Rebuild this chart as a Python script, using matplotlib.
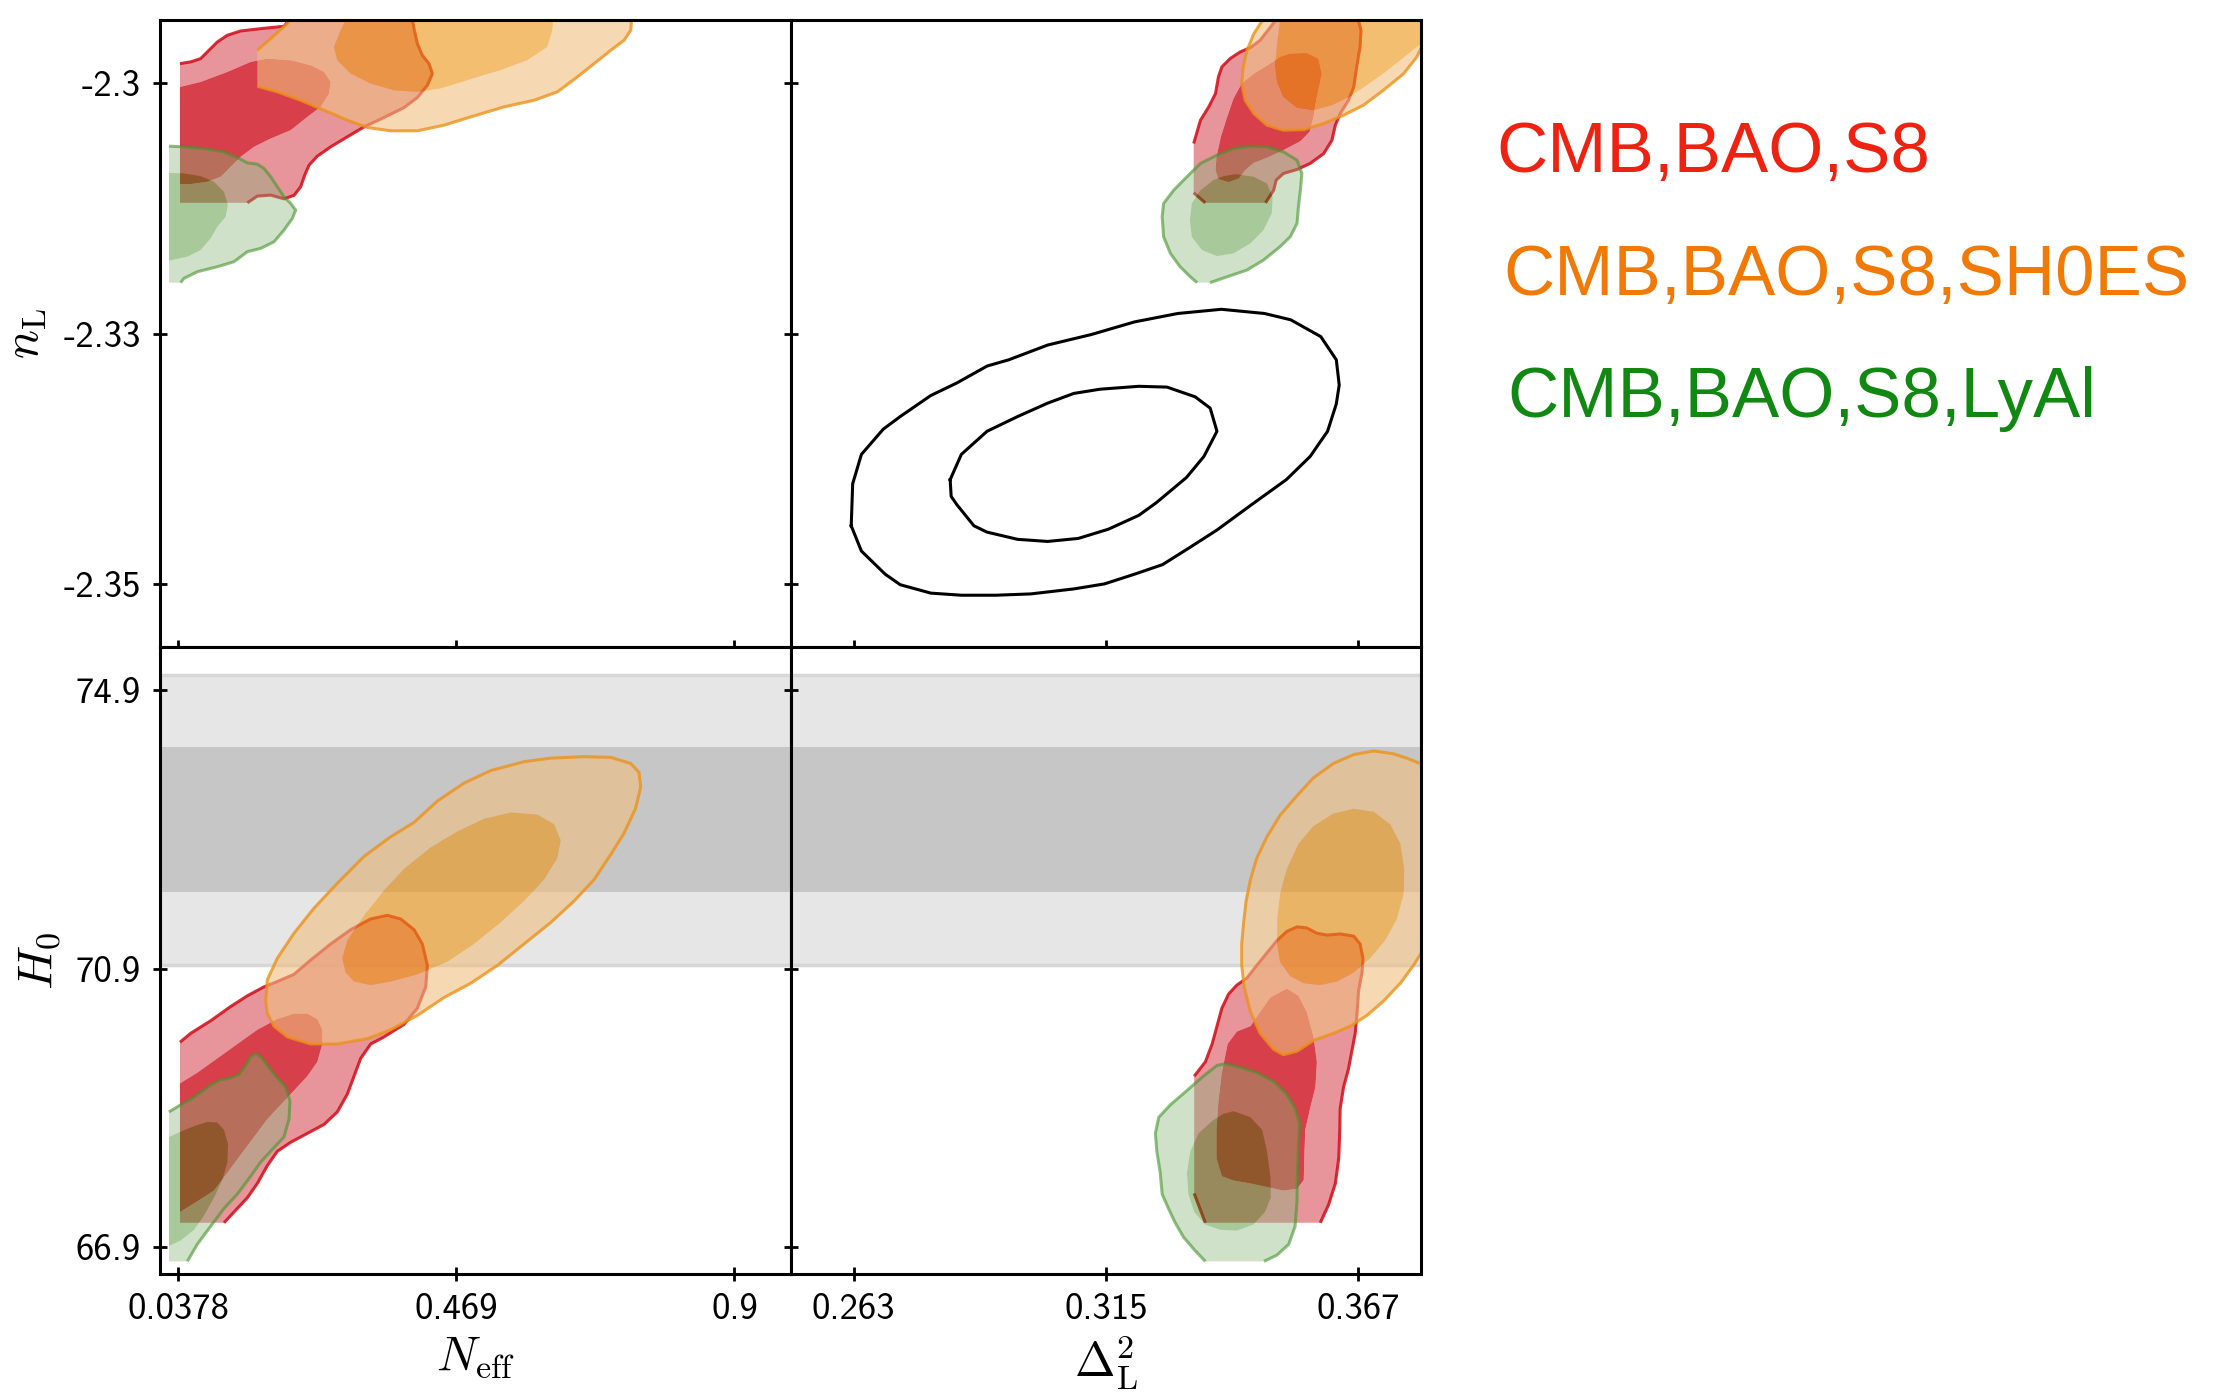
import matplotlib.pyplot as plt
import numpy as np
from matplotlib.path import Path
from matplotlib.patches import PathPatch, Polygon

plt.rcParams['mathtext.fontset'] = 'cm'
plt.rcParams['font.family'] = ['cmss10', 'DejaVu Sans']

# axis ranges and ticks
neff_lim = (0.0095, 0.987)
neff_ticks = [0.0378, 0.469, 0.9]
neff_ticklabels = ['0.0378', '0.469', '0.9']
dl_lim = (0.2500, 0.3800)
dl_ticks = [0.263, 0.315, 0.367]
dl_ticklabels = ['0.263', '0.315', '0.367']
nl_lim = (-2.3563, -2.2937)
nl_ticks = [-2.30, -2.325, -2.35]
nl_ticklabels = ['-2.3', '-2.33', '-2.35']
h0_lim = (66.52, 75.52)
h0_ticks = [74.9, 70.9, 66.9]
h0_ticklabels = ['74.9', '70.9', '66.9']

# SH0ES prior band
shoes_mean = 73.04
shoes_sigma = 1.04

labels = ['CMB,BAO,S8', 'CMB,BAO,S8,SH0ES', 'CMB,BAO,S8,LyAl']

# ---- contours: N_eff vs H0 (lower left) ----
red_outer_ll = [(0.0405, 67.255), (0.1087, 67.255), (0.1242, 67.409), (0.1449, 67.614), (0.1604, 67.819),
                (0.1759, 68.076), (0.1914, 68.281), (0.2121, 68.410), (0.2379, 68.538), (0.2637, 68.666),
                (0.2844, 68.846), (0.2999, 69.102), (0.3103, 69.359), (0.3206, 69.615), (0.3361, 69.821),
                (0.3568, 69.923), (0.3878, 70.103), (0.4084, 70.334), (0.4214, 70.641), (0.4240, 70.949),
                (0.4162, 71.257), (0.4033, 71.462), (0.3826, 71.616), (0.3619, 71.668), (0.3361, 71.616),
                (0.3051, 71.462), (0.2741, 71.257), (0.2431, 71.026), (0.2172, 70.821), (0.1914, 70.718),
                (0.1707, 70.641), (0.1449, 70.513), (0.1190, 70.359), (0.0880, 70.154), (0.0570, 69.974),
                (0.0405, 69.846)]
red_inner_ll = [(0.0405, 69.256), (0.0674, 69.410), (0.0984, 69.615), (0.1294, 69.821), (0.1604, 70.026),
                (0.1914, 70.180), (0.2172, 70.257), (0.2379, 70.257), (0.2534, 70.180), (0.2612, 70.026),
                (0.2612, 69.821), (0.2534, 69.564), (0.2379, 69.359), (0.2172, 69.153), (0.1966, 68.948),
                (0.1759, 68.743), (0.1552, 68.486), (0.1345, 68.230), (0.1139, 67.973), (0.0932, 67.717),
                (0.0674, 67.563), (0.0405, 67.409)]
orange_outer_ll = [(0.1733, 70.436), (0.1759, 70.744), (0.1914, 71.052), (0.2172, 71.411), (0.2482, 71.770),
                   (0.2844, 72.129), (0.3258, 72.514), (0.3671, 72.796), (0.4033, 73.002), (0.4395, 73.309),
                   (0.4808, 73.566), (0.5221, 73.746), (0.5738, 73.874), (0.6152, 73.925), (0.6668, 73.946),
                   (0.7082, 73.936), (0.7392, 73.848), (0.7521, 73.720), (0.7547, 73.515), (0.7469, 73.207),
                   (0.7289, 72.848), (0.7082, 72.540), (0.6824, 72.181), (0.6513, 71.873), (0.6152, 71.565),
                   (0.5738, 71.257), (0.5325, 70.949), (0.4911, 70.693), (0.4498, 70.488), (0.4084, 70.231),
                   (0.3671, 70.026), (0.3309, 69.897), (0.2844, 69.821), (0.2431, 69.821), (0.2069, 69.923),
                   (0.1862, 70.077), (0.1759, 70.257)]
orange_inner_ll = [(0.2922, 71.052), (0.2999, 71.308), (0.3258, 71.668), (0.3568, 72.027), (0.3878, 72.335),
                   (0.4291, 72.642), (0.4705, 72.873), (0.5118, 73.053), (0.5532, 73.145), (0.5945, 73.114),
                   (0.6203, 72.976), (0.6307, 72.745), (0.6255, 72.489), (0.6048, 72.181), (0.5738, 71.873),
                   (0.5376, 71.565), (0.4963, 71.257), (0.4550, 71.001), (0.4084, 70.821), (0.3671, 70.718),
                   (0.3361, 70.667), (0.3103, 70.718), (0.2973, 70.847)]
green_outer_ll = [(0.0234, 66.701), (0.0519, 66.701), (0.0674, 66.947), (0.0880, 67.204), (0.1087, 67.460),
                  (0.1294, 67.666), (0.1500, 67.922), (0.1656, 68.127), (0.1862, 68.333), (0.2017, 68.486),
                  (0.2095, 68.743), (0.2110, 69.000), (0.2043, 69.205), (0.1914, 69.333), (0.1759, 69.513),
                  (0.1656, 69.641), (0.1578, 69.677), (0.1500, 69.641), (0.1423, 69.513), (0.1320, 69.384),
                  (0.1190, 69.333), (0.1035, 69.307), (0.0880, 69.231), (0.0725, 69.128), (0.0570, 69.025),
                  (0.0415, 68.948), (0.0234, 68.846)]
green_inner_ll = [(0.0234, 68.486), (0.0415, 68.563), (0.0622, 68.640), (0.0829, 68.702), (0.0984, 68.692),
                  (0.1087, 68.589), (0.1149, 68.384), (0.1139, 68.127), (0.1061, 67.871), (0.0932, 67.614),
                  (0.0777, 67.358), (0.0622, 67.153), (0.0415, 66.999), (0.0234, 66.922)]

# ---- contours: Delta_L^2 vs H0 (lower right) ----
red_outer_lr = [(0.3332, 67.676), (0.3355, 67.255), (0.3592, 67.255), (0.3609, 67.512), (0.3623, 67.819),
                (0.3630, 68.179), (0.3632, 68.538), (0.3633, 68.897), (0.3640, 69.205), (0.3650, 69.461),
                (0.3657, 69.718), (0.3664, 69.974), (0.3668, 70.282), (0.3671, 70.590), (0.3678, 70.847),
                (0.3680, 71.052), (0.3674, 71.257), (0.3661, 71.370), (0.3633, 71.401), (0.3606, 71.385),
                (0.3585, 71.411), (0.3564, 71.488), (0.3544, 71.503), (0.3523, 71.437), (0.3503, 71.308),
                (0.3482, 71.129), (0.3461, 70.949), (0.3441, 70.770), (0.3420, 70.667), (0.3403, 70.539),
                (0.3389, 70.334), (0.3379, 70.077), (0.3369, 69.821), (0.3355, 69.564), (0.3332, 69.359)]
red_inner_lr = [(0.3523, 70.616), (0.3547, 70.513), (0.3564, 70.282), (0.3578, 69.923), (0.3585, 69.564),
                (0.3582, 69.205), (0.3571, 68.897), (0.3561, 68.589), (0.3559, 68.179), (0.3558, 67.871),
                (0.3544, 67.743), (0.3516, 67.717), (0.3482, 67.768), (0.3448, 67.819), (0.3413, 67.861),
                (0.3389, 67.922), (0.3378, 68.179), (0.3378, 68.589), (0.3382, 69.000), (0.3389, 69.410),
                (0.3401, 69.821), (0.3420, 70.000), (0.3448, 70.077), (0.3468, 70.282), (0.3489, 70.488)]
orange_outer_lr = [(0.3798, 73.848), (0.3770, 73.925), (0.3743, 73.987), (0.3702, 74.028), (0.3661, 73.976),
                   (0.3619, 73.848), (0.3578, 73.643), (0.3544, 73.386), (0.3509, 73.104), (0.3482, 72.796),
                   (0.3461, 72.489), (0.3448, 72.181), (0.3439, 71.873), (0.3434, 71.565), (0.3430, 71.257),
                   (0.3430, 70.949), (0.3435, 70.641), (0.3448, 70.282), (0.3468, 69.974), (0.3496, 69.744),
                   (0.3516, 69.667), (0.3544, 69.718), (0.3578, 69.872), (0.3619, 69.974), (0.3654, 70.077),
                   (0.3688, 70.231), (0.3722, 70.436), (0.3757, 70.693), (0.3784, 70.949), (0.3798, 71.103),
                   (0.3826, 71.462), (0.3826, 73.771)]
orange_inner_lr = [(0.3661, 73.197), (0.3702, 73.156), (0.3736, 72.976), (0.3757, 72.694), (0.3765, 72.335),
                   (0.3764, 71.975), (0.3750, 71.616), (0.3726, 71.308), (0.3695, 71.052), (0.3661, 70.847),
                   (0.3626, 70.718), (0.3592, 70.667), (0.3558, 70.693), (0.3530, 70.795), (0.3509, 71.001),
                   (0.3503, 71.257), (0.3503, 71.616), (0.3509, 71.975), (0.3523, 72.335), (0.3547, 72.694),
                   (0.3578, 72.950), (0.3619, 73.130)]
green_outer_lr = [(0.3476, 66.701), (0.3503, 66.793), (0.3527, 66.947), (0.3540, 67.204), (0.3544, 67.563),
                  (0.3545, 67.973), (0.3547, 68.384), (0.3549, 68.692), (0.3540, 68.897), (0.3523, 69.102),
                  (0.3496, 69.282), (0.3461, 69.410), (0.3427, 69.487), (0.3396, 69.538), (0.3379, 69.513),
                  (0.3351, 69.359), (0.3317, 69.153), (0.3283, 68.948), (0.3259, 68.769), (0.3252, 68.538),
                  (0.3255, 68.281), (0.3262, 67.973), (0.3266, 67.666), (0.3279, 67.460), (0.3293, 67.255),
                  (0.3310, 67.050), (0.3332, 66.870), (0.3355, 66.701)]
green_inner_lr = [(0.3413, 68.856), (0.3448, 68.769), (0.3472, 68.589), (0.3482, 68.281), (0.3489, 67.922),
                  (0.3490, 67.614), (0.3478, 67.409), (0.3454, 67.229), (0.3420, 67.142), (0.3386, 67.153),
                  (0.3355, 67.229), (0.3332, 67.409), (0.3320, 67.666), (0.3317, 67.973), (0.3324, 68.281),
                  (0.3341, 68.538), (0.3369, 68.717), (0.3393, 68.820)]

# ---- contours: N_eff vs n_L (upper left) ----
red_outer_tl = [(0.0405, -2.31195), (0.1449, -2.31195), (0.1604, -2.31128), (0.1811, -2.31118), (0.2017, -2.31155),
                (0.2172, -2.31121), (0.2276, -2.31035), (0.2338, -2.30919), (0.2405, -2.30819), (0.2534, -2.30729),
                (0.2741, -2.30636), (0.2999, -2.30536), (0.3258, -2.30437), (0.3568, -2.30343), (0.3878, -2.30244),
                (0.4084, -2.30144), (0.4240, -2.30021), (0.4317, -2.29905), (0.4265, -2.29805), (0.4162, -2.29722),
                (0.4084, -2.29605), (0.4033, -2.29456), (0.3981, -2.29273), (0.2224, -2.29273), (0.2017, -2.29432),
                (0.1656, -2.29456), (0.1345, -2.29479), (0.1139, -2.29522), (0.0984, -2.29589), (0.0854, -2.29672),
                (0.0725, -2.29755), (0.0570, -2.29788), (0.0405, -2.29805)]
red_inner_tl = [(0.0405, -2.30038), (0.0725, -2.29988), (0.1139, -2.29888), (0.1500, -2.29788), (0.1759, -2.29755),
                (0.2121, -2.29772), (0.2431, -2.29821), (0.2637, -2.29888), (0.2741, -2.29988), (0.2715, -2.30104),
                (0.2586, -2.30237), (0.2379, -2.30337), (0.2121, -2.30470), (0.1811, -2.30553), (0.1552, -2.30636),
                (0.1345, -2.30736), (0.1190, -2.30836), (0.1035, -2.30935), (0.0829, -2.30985), (0.0570, -2.31008),
                (0.0405, -2.31008)]
orange_outer_tl = [(0.1604, -2.29672), (0.1811, -2.29555), (0.2069, -2.29406), (0.2172, -2.29273), (0.7418, -2.29273),
                   (0.7392, -2.29472), (0.7289, -2.29572), (0.7082, -2.29672), (0.6824, -2.29805), (0.6565, -2.29938),
                   (0.6255, -2.30087), (0.5893, -2.30171), (0.5428, -2.30237), (0.4911, -2.30337), (0.4498, -2.30420),
                   (0.4084, -2.30476), (0.3671, -2.30476), (0.3309, -2.30443), (0.2999, -2.30370), (0.2637, -2.30270),
                   (0.2276, -2.30171), (0.1914, -2.30087), (0.1604, -2.30031)]
orange_inner_tl = [(0.3051, -2.29273), (0.2896, -2.29472), (0.2792, -2.29639), (0.2844, -2.29772), (0.3051, -2.29905),
                   (0.3361, -2.30004), (0.3723, -2.30071), (0.4084, -2.30087), (0.4446, -2.30054), (0.4860, -2.29971),
                   (0.5376, -2.29871), (0.5790, -2.29772), (0.6100, -2.29639), (0.6178, -2.29472), (0.6203, -2.29273)]
green_outer_tl = [(0.0234, -2.31992), (0.0415, -2.31992), (0.0467, -2.31949), (0.0674, -2.31883), (0.0984, -2.31833),
                  (0.1242, -2.31783), (0.1449, -2.31683), (0.1656, -2.31650), (0.1862, -2.31584), (0.2017, -2.31467),
                  (0.2146, -2.31351), (0.2198, -2.31268), (0.2121, -2.31201), (0.2017, -2.31135), (0.1914, -2.31035),
                  (0.1811, -2.30935), (0.1707, -2.30852), (0.1604, -2.30809), (0.1449, -2.30796), (0.1320, -2.30752),
                  (0.1087, -2.30686), (0.0777, -2.30653), (0.0467, -2.30636), (0.0234, -2.30629)]
green_inner_tl = [(0.0234, -2.30895), (0.0467, -2.30902), (0.0725, -2.30929), (0.0932, -2.30985), (0.1087, -2.31085),
                  (0.1149, -2.31218), (0.1113, -2.31334), (0.0984, -2.31434), (0.0880, -2.31550), (0.0725, -2.31667),
                  (0.0519, -2.31733), (0.0234, -2.31773)]

# ---- contours: Delta_L^2 vs n_L (upper right) ----
red_outer_tr = [(0.3331, -2.31095), (0.3355, -2.31195), (0.3479, -2.31195), (0.3496, -2.31068), (0.3501, -2.30968),
                (0.3516, -2.30902), (0.3544, -2.30862), (0.3571, -2.30802), (0.3599, -2.30703), (0.3616, -2.30570),
                (0.3623, -2.30420), (0.3633, -2.30304), (0.3650, -2.30171), (0.3661, -2.30038), (0.3667, -2.29838),
                (0.3674, -2.29639), (0.3676, -2.29472), (0.3671, -2.29379), (0.3671, -2.29273), (0.3516, -2.29273),
                (0.3468, -2.29572), (0.3448, -2.29645), (0.3427, -2.29688), (0.3406, -2.29755), (0.3389, -2.29838),
                (0.3382, -2.29938), (0.3376, -2.30104), (0.3362, -2.30237), (0.3345, -2.30370), (0.3331, -2.30603)]
red_inner_tr = [(0.3530, -2.29705), (0.3564, -2.29699), (0.3588, -2.29755), (0.3595, -2.29905), (0.3588, -2.30071),
                (0.3582, -2.30204), (0.3578, -2.30337), (0.3570, -2.30486), (0.3551, -2.30580), (0.3516, -2.30669),
                (0.3482, -2.30746), (0.3455, -2.30796), (0.3437, -2.30869), (0.3424, -2.30952), (0.3403, -2.30988),
                (0.3382, -2.30959), (0.3376, -2.30869), (0.3378, -2.30736), (0.3387, -2.30536), (0.3400, -2.30337),
                (0.3413, -2.30154), (0.3430, -2.30004), (0.3455, -2.29905), (0.3489, -2.29805), (0.3509, -2.29738)]
orange_outer_tr = [(0.3475, -2.29273), (0.3472, -2.29379), (0.3455, -2.29506), (0.3441, -2.29672), (0.3433, -2.29838),
                   (0.3430, -2.30004), (0.3437, -2.30171), (0.3455, -2.30304), (0.3482, -2.30420), (0.3516, -2.30470),
                   (0.3558, -2.30464), (0.3599, -2.30403), (0.3640, -2.30320), (0.3681, -2.30220), (0.3722, -2.30071),
                   (0.3764, -2.29905), (0.3791, -2.29738), (0.3801, -2.29639), (0.3826, -2.29539), (0.3826, -2.29273)]
orange_inner_tr = [(0.3513, -2.29273), (0.3509, -2.29379), (0.3503, -2.29605), (0.3499, -2.29822), (0.3503, -2.29988),
                   (0.3516, -2.30137), (0.3544, -2.30244), (0.3578, -2.30270), (0.3616, -2.30220), (0.3654, -2.30131),
                   (0.3688, -2.30021), (0.3722, -2.29905), (0.3757, -2.29772), (0.3791, -2.29639), (0.3812, -2.29572),
                   (0.3812, -2.29273)]
green_outer_tr = [(0.3365, -2.31992), (0.3400, -2.31933), (0.3441, -2.31866), (0.3475, -2.31766), (0.3509, -2.31633),
                  (0.3530, -2.31534), (0.3544, -2.31401), (0.3547, -2.31234), (0.3551, -2.31068), (0.3554, -2.30902),
                  (0.3544, -2.30769), (0.3516, -2.30686), (0.3482, -2.30636), (0.3448, -2.30629), (0.3413, -2.30653),
                  (0.3379, -2.30719), (0.3345, -2.30802), (0.3317, -2.30935), (0.3290, -2.31068), (0.3269, -2.31201),
                  (0.3266, -2.31334), (0.3269, -2.31534), (0.3283, -2.31700), (0.3303, -2.31833), (0.3324, -2.31933),
                  (0.3338, -2.31992)]
green_inner_tr = [(0.3417, -2.30909), (0.3455, -2.30935), (0.3482, -2.31002), (0.3494, -2.31135), (0.3492, -2.31301),
                  (0.3475, -2.31467), (0.3448, -2.31600), (0.3413, -2.31700), (0.3379, -2.31727), (0.3348, -2.31667),
                  (0.3327, -2.31534), (0.3323, -2.31367), (0.3327, -2.31201), (0.3345, -2.31068), (0.3372, -2.30968),
                  (0.3393, -2.30929)]
black_outer_tr = [(0.2625, -2.34420), (0.2628, -2.34000), (0.2646, -2.33707), (0.2691, -2.33455), (0.2726, -2.33329),
                  (0.2789, -2.33119), (0.2843, -2.32993), (0.2905, -2.32825), (0.2950, -2.32762), (0.3030, -2.32615),
                  (0.3120, -2.32510), (0.3209, -2.32384), (0.3298, -2.32300), (0.3388, -2.32258), (0.3477, -2.32300),
                  (0.3531, -2.32363), (0.3593, -2.32531), (0.3625, -2.32762), (0.3631, -2.33014), (0.3625, -2.33203),
                  (0.3607, -2.33476), (0.3571, -2.33728), (0.3522, -2.33959), (0.3450, -2.34210), (0.3379, -2.34462),
                  (0.3325, -2.34630), (0.3267, -2.34807), (0.3209, -2.34903), (0.3147, -2.35000), (0.3084, -2.35050),
                  (0.2995, -2.35100), (0.2923, -2.35113), (0.2852, -2.35113), (0.2789, -2.35092), (0.2726, -2.35008),
                  (0.2695, -2.34903), (0.2646, -2.34672)]
black_inner_tr = [(0.2829, -2.33959), (0.2831, -2.34126), (0.2843, -2.34210), (0.2878, -2.34420), (0.2905, -2.34483),
                  (0.2968, -2.34555), (0.3030, -2.34576), (0.3093, -2.34546), (0.3155, -2.34454), (0.3218, -2.34315),
                  (0.3254, -2.34189), (0.3316, -2.33938), (0.3352, -2.33728), (0.3379, -2.33476), (0.3365, -2.33245),
                  (0.3334, -2.33132), (0.3276, -2.33035), (0.3218, -2.33027), (0.3138, -2.33056), (0.3084, -2.33098),
                  (0.3030, -2.33195), (0.2968, -2.33329), (0.2905, -2.33476), (0.2852, -2.33707)]

# fill colours (outer, inner), line colour, alphas
red_style = dict(outer='#e27a82', inner='#ce101d', alpha=0.8, line='#d20b17', lalpha=0.85, z=1.0)
orange_style = dict(outer='#f0be7f', inner='#ed9411', alpha=0.6, line='#ec921a', lalpha=0.8, z=1.5)
green_style = dict(outer='#87b476', inner='#267b03', alpha=0.4, line='#44942b', lalpha=0.6, z=2.0)


def signed_area(p):
    return 0.5 * np.sum(p[:, 0] * np.roll(p[:, 1], -1) - np.roll(p[:, 0], -1) * p[:, 1])


def ring(outer, inner):
    o = np.asarray(outer, float)
    i = np.asarray(inner, float)
    if signed_area(o) * signed_area(i) > 0:
        i = i[::-1]
    verts = np.concatenate([o, o[:1], i, i[:1]])
    codes = ([Path.MOVETO] + [Path.LINETO] * (len(o) - 1) + [Path.CLOSEPOLY] +
             [Path.MOVETO] + [Path.LINETO] * (len(i) - 1) + [Path.CLOSEPOLY])
    return Path(verts, codes)


def draw_set(ax, outer, inner, st, parts=None):
    z = st['z']
    ax.add_patch(PathPatch(ring(outer, inner), facecolor=st['outer'], edgecolor='none',
                           alpha=st['alpha'], zorder=z))
    ax.add_patch(Polygon(inner, closed=True, facecolor=st['inner'], edgecolor='none',
                         alpha=st['alpha'], zorder=z))
    o = np.asarray(outer, float)
    if parts is None:
        segs = [np.vstack([o, o[:1]])]
    else:
        segs = [o[a:b] for a, b in parts]
    for s in segs:
        ax.plot(s[:, 0], s[:, 1], color=st['line'], alpha=st['lalpha'], lw=2.2,
                zorder=z + 0.1, solid_capstyle='butt')


fig = plt.figure(figsize=(22.22, 13.92), dpi=100)
w, h = 0.2838, 0.4504
ax_tl = fig.add_axes([0.0720, 0.5352, w, h])
ax_tr = fig.add_axes([0.3558, 0.5352, w, h])
ax_ll = fig.add_axes([0.0720, 0.0848, w, h])
ax_lr = fig.add_axes([0.3558, 0.0848, w, h])

for ax in [ax_ll, ax_lr]:
    ax.axhspan(shoes_mean - 2 * shoes_sigma, shoes_mean + 2 * shoes_sigma,
               facecolor='#e6e6e6', edgecolor='#d7d7d7', lw=2.5, zorder=0.3)
    ax.axhspan(shoes_mean - shoes_sigma, shoes_mean + shoes_sigma,
               facecolor='#c6c6c6', edgecolor='none', zorder=0.4)

# lower left
draw_set(ax_ll, red_outer_ll, red_inner_ll, red_style, parts=[(1, None)])
draw_set(ax_ll, orange_outer_ll, orange_inner_ll, orange_style)
draw_set(ax_ll, green_outer_ll, green_inner_ll, green_style, parts=[(1, None)])
# lower right
draw_set(ax_lr, red_outer_lr, red_inner_lr, red_style, parts=[(0, 2), (2, None)])
draw_set(ax_lr, orange_outer_lr, orange_inner_lr, orange_style)
draw_set(ax_lr, green_outer_lr, green_inner_lr, green_style, parts=[(0, None)])
# upper left
draw_set(ax_tl, red_outer_tl, red_inner_tl, red_style, parts=[(1, None)])
draw_set(ax_tl, orange_outer_tl, orange_inner_tl, orange_style, parts=[(0, None)])
draw_set(ax_tl, green_outer_tl, green_inner_tl, green_style, parts=[(1, None)])
# upper right
draw_set(ax_tr, red_outer_tr, red_inner_tr, red_style, parts=[(0, 2), (2, None)])
draw_set(ax_tr, orange_outer_tr, orange_inner_tr, orange_style)
draw_set(ax_tr, green_outer_tr, green_inner_tr, green_style, parts=[(0, None)])
for c in [black_outer_tr, black_inner_tr]:
    c = np.asarray(c)
    c = np.vstack([c, c[:1]])
    ax_tr.plot(c[:, 0], c[:, 1], color='black', lw=2.2, zorder=2.2)

for ax in [ax_tl, ax_ll]:
    ax.set_xlim(neff_lim)
    ax.set_xticks(neff_ticks)
for ax in [ax_tr, ax_lr]:
    ax.set_xlim(dl_lim)
    ax.set_xticks(dl_ticks)
for ax in [ax_tl, ax_tr]:
    ax.set_ylim(nl_lim)
    ax.set_yticks(nl_ticks)
    ax.set_xticklabels([])
for ax in [ax_ll, ax_lr]:
    ax.set_ylim(h0_lim)
    ax.set_yticks(h0_ticks)
ax_tr.set_yticklabels([])
ax_lr.set_yticklabels([])
ax_tl.set_yticklabels(nl_ticklabels)
ax_ll.set_yticklabels(h0_ticklabels)
ax_ll.set_xticklabels(neff_ticklabels)
ax_lr.set_xticklabels(dl_ticklabels)

for ax in [ax_tl, ax_tr, ax_ll, ax_lr]:
    ax.tick_params(direction='inout', length=9.5, width=2, labelsize=26.5, pad=9,
                   top=False, right=False)
    for sp in ax.spines.values():
        sp.set_linewidth(2.2)
        sp.set_zorder(10)

ax_tl.set_ylabel(r'$n_{\rm L}$', fontsize=35, labelpad=10)
ax_ll.set_ylabel(r'$H_0$', fontsize=35, labelpad=10)
ax_ll.set_xlabel(r'$N_{\rm eff}$', fontsize=35, labelpad=6)
ax_lr.set_xlabel(r'$\Delta^2_{\rm L}$', fontsize=35, labelpad=6)

fig.text(0.6733, 0.8767, labels[0], color='#ee2211', fontsize=51,
         family='Liberation Sans', va='baseline')
fig.text(0.6764, 0.7881, labels[1], color='#f07a05', fontsize=51,
         family='Liberation Sans', va='baseline')
fig.text(0.6784, 0.7006, labels[2], color='#118811', fontsize=51,
         family='Liberation Sans', va='baseline')

fig.savefig('out.png', dpi=100)
